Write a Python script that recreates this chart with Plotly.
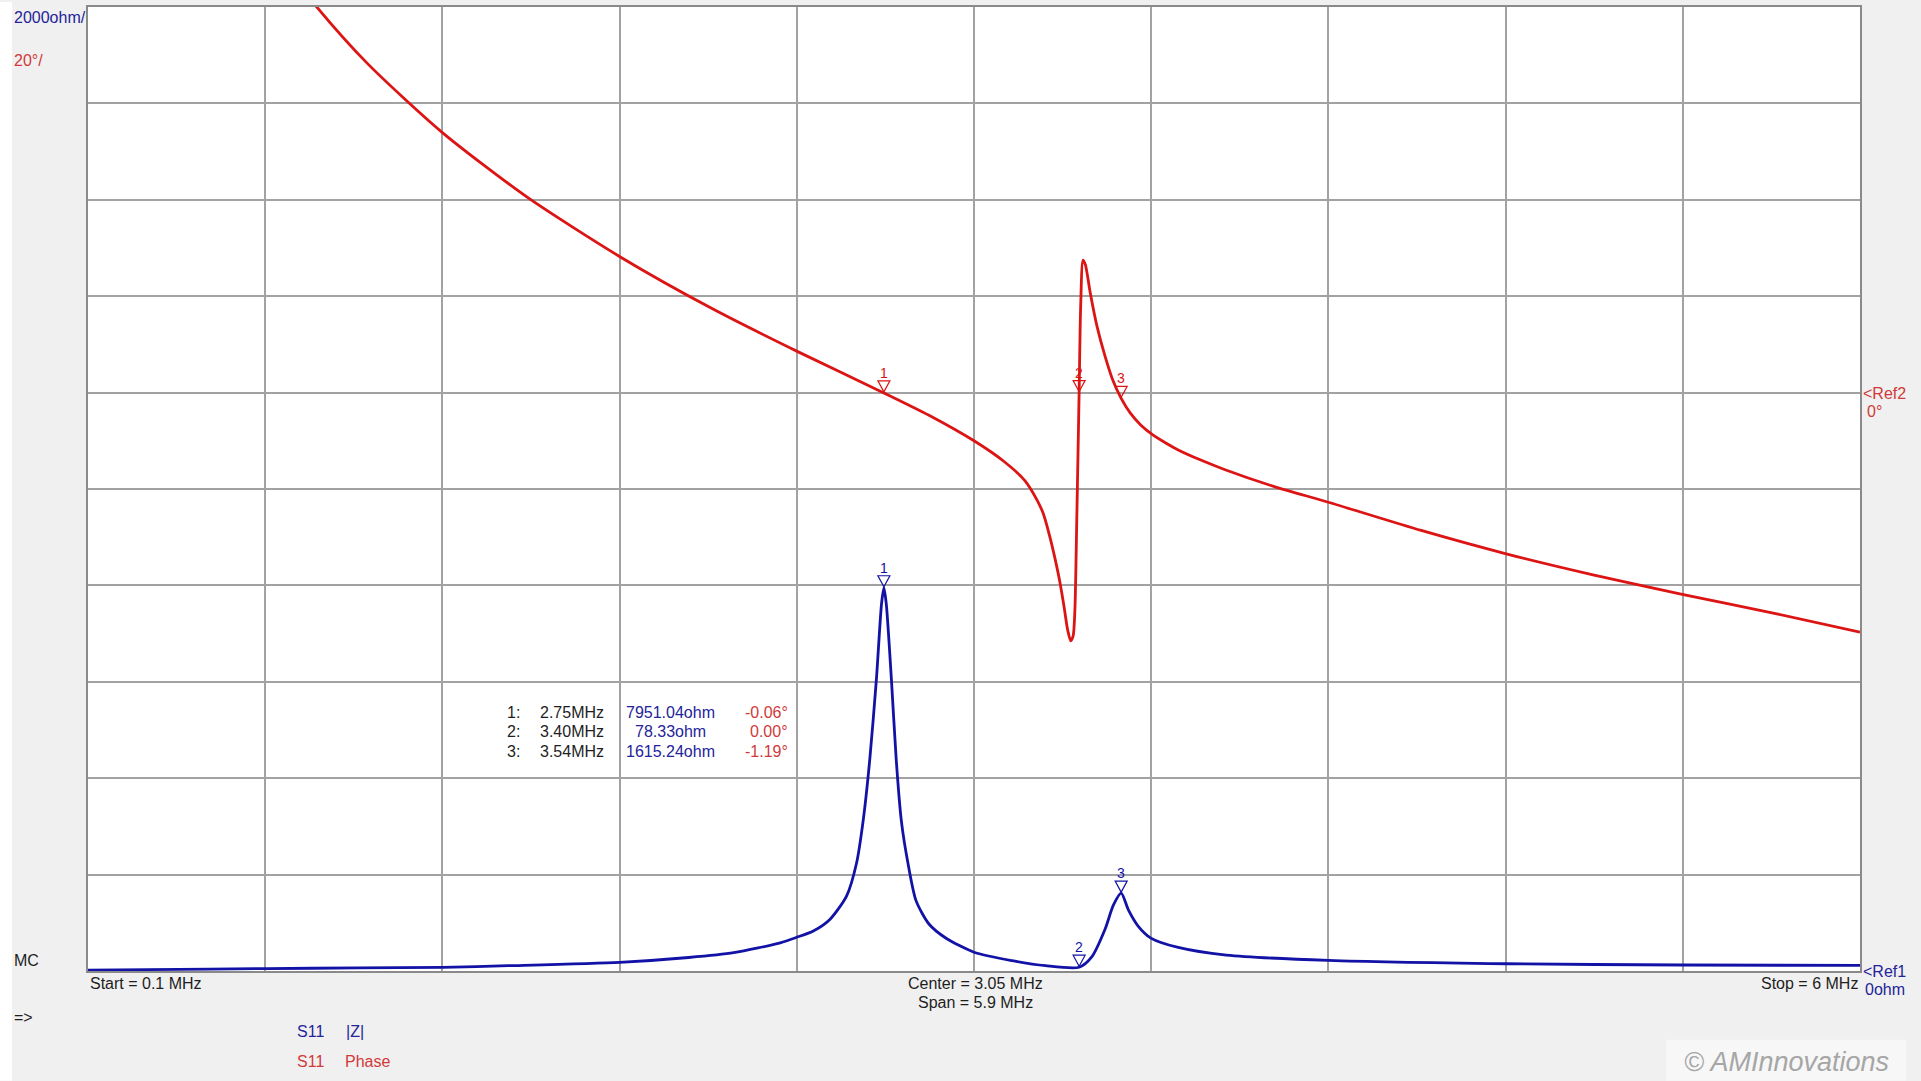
import plotly.graph_objects as go

# sweep settings
start_mhz = 0.1
stop_mhz = 6.0
ohm_per_div = 2000
deg_per_div = 20

# |Z| trace (MHz, ohm)
freq_z = [0.10, 0.30, 0.70, 1.00, 1.28, 1.50, 1.87, 2.10, 2.25, 2.405, 2.46, 2.515,
          2.57, 2.626, 2.659, 2.681, 2.703, 2.725, 2.742, 2.75, 2.758, 2.775, 2.791,
          2.808, 2.83, 2.857, 2.90, 2.957, 3.05, 3.177, 3.288, 3.40, 3.442, 3.487,
          3.514, 3.54, 3.564, 3.597, 3.639, 3.73, 3.89, 4.23, 4.82, 5.41, 6.00]
z_ohm = [20, 30, 50, 65, 76, 110, 180, 280, 380, 585, 700, 830,
         1070, 1560, 2240, 3120, 4390, 6050, 7610, 7951, 7610, 6050, 4390,
         3120, 2240, 1460, 975, 680, 390, 215, 110, 78, 293, 878,
         1366, 1615, 1268, 927, 683, 488, 330, 220, 150, 125, 115]

# phase trace (MHz, degrees)
freq_phase = [0.70, 0.859, 1.03, 1.279, 1.561, 1.871, 2.173, 2.463, 2.75, 2.90, 3.05,
              3.15, 3.22, 3.26, 3.28, 3.30, 3.32, 3.335, 3.35, 3.362, 3.372, 3.38,
              3.386, 3.392, 3.40, 3.405, 3.413, 3.421, 3.437, 3.459, 3.487, 3.512,
              3.54, 3.57, 3.605, 3.642, 3.69, 3.73, 3.805, 3.886, 4.05, 4.233,
              4.539, 4.825, 5.111, 5.412, 5.723, 6.00]
phase_deg = [93, 80.2, 68.3, 54.0, 40.6, 28.2, 17.6, 8.5, -0.06, -4.7, -10.0,
             -14.3, -18.3, -22.3, -25.0, -29.3, -34.5, -39.0, -44.5, -49.3, -51.5, -50.5,
             -45.0, -27.0, 0.0, 17.5, 27.5, 26.5, 20.7, 13.9, 7.4, 2.6,
             -1.19, -4.2, -6.7, -8.6, -10.5, -11.9, -14.0, -16.0, -19.5, -22.8,
             -28.6, -33.5, -37.8, -41.9, -45.9, -49.7]

# markers
marker_freq = [2.75, 3.40, 3.54]
marker_z = [7951.04, 78.33, 1615.24]
marker_phase = [-0.06, 0.00, -1.19]

BLUE = "#1212a6"
RED = "#dc1414"
TXT_BLUE = "#24249a"
TXT_RED = "#d03a3a"
TXT = "#1e1e1e"
FONT = "Liberation Sans"

W, H = 1921, 1081
L, R, T, B = 88, 61, 5, 110
plot_w = W - L - R
plot_h = H - T - B


def px(x):
    return (x - L) / plot_w


def py(y):
    return (H - B - y) / plot_h


fig = go.Figure()

fig.add_trace(go.Scatter(
    x=freq_phase, y=phase_deg, mode="lines", yaxis="y2",
    line=dict(color=RED, width=2.8, shape="spline", smoothing=0.7),
    name="S11 Phase", hoverinfo="skip"
))
fig.add_trace(go.Scatter(
    x=freq_z, y=z_ohm, mode="lines",
    line=dict(color=BLUE, width=2.8, shape="spline", smoothing=0.7),
    name="S11 |Z|", hoverinfo="skip"
))

ann = []
shapes = []


def label(text, x, y, color=TXT, size=16, xanchor="left", **kw):
    ann.append(dict(text=text, x=px(x), y=py(y), xref="paper", yref="paper",
                    xanchor=xanchor, yanchor="middle", showarrow=False,
                    font=dict(family=FONT, size=size, color=color), **kw))


# marker flags on the traces: open triangle (pixel-sized path) + number above
for i, (f, z, p) in enumerate(zip(marker_freq, marker_z, marker_phase), start=1):
    for yref, yv, col in (("y", z, BLUE), ("y2", p, RED)):
        shapes.append(dict(type="path", xref="x", yref=yref, xsizemode="pixel",
                           ysizemode="pixel", xanchor=f, yanchor=yv,
                           path="M-6,12 L6,12 L0,1 Z",
                           line=dict(color=col, width=1.2), fillcolor="rgba(0,0,0,0)"))
        ann.append(dict(text=str(i), x=f, y=yv, xref="x", yref=yref,
                        xanchor="center", yanchor="bottom", showarrow=False, yshift=10,
                        font=dict(family=FONT, size=14, color=col)))

# scale labels
label("2000ohm/", 12, 16, TXT_BLUE)
label("20°/", 12, 59, TXT_RED)
label("MC", 12, 960)
label("=>", 12, 1018)
label("&lt;Ref2", 1861, 392, TXT_RED)
label("0°", 1865, 410, TXT_RED)
label("&lt;Ref1", 1861, 971, TXT_BLUE)
label("0ohm", 1863, 990, TXT_BLUE)

# sweep labels
label(f"Start = {start_mhz:g} MHz", 88, 984)
label(f"Center = {(start_mhz + stop_mhz) / 2:g} MHz", 975, 984, xanchor="center")
label(f"Span = {stop_mhz - start_mhz:g} MHz", 975, 1003, xanchor="center")
label(f"Stop = {stop_mhz:g} MHz", 1860, 984, xanchor="right")

# trace legend
label("S11", 295, 1032, TXT_BLUE)
label("|Z|", 355, 1032, TXT_BLUE, xanchor="center")
label("S11", 295, 1062, TXT_RED)
label("Phase", 343, 1062, TXT_RED)

# marker readout table
for k, (f, z, p) in enumerate(zip(marker_freq, marker_z, marker_phase)):
    y = 712 + k * 19.5
    label(f"{k + 1}:", 522, y, xanchor="right")
    label(f"{f:.2f}MHz", 538, y)
    label(f"{z:.2f}ohm", 670, y, TXT_BLUE, xanchor="center")
    label(f"{p:.2f}°", 790, y, TXT_RED, xanchor="right")

# watermark
label("© AMInnovations", 1786, 1062, "#a6a6a6", size=27, xanchor="center")
ann[-1]["font"]["style"] = "italic"

shapes += [
    dict(type="rect", xref="paper", yref="paper", x0=px(0), x1=px(12), y0=py(H), y1=py(0),
         fillcolor="white", line_width=0, layer="below"),
    dict(type="rect", xref="paper", yref="paper", x0=px(1666), x1=px(1906), y0=py(H), y1=py(1040),
         fillcolor="#f7f7f7", line_width=0, layer="below"),
]

grid = dict(showgrid=True, gridcolor="#a2a2a2", gridwidth=1.5, zeroline=False,
            showticklabels=False, ticks="", showline=True, linecolor="#8a8a8a",
            linewidth=1.5, mirror=True, fixedrange=True)

fig.update_layout(
    width=W, height=H,
    margin=dict(l=L, r=R, t=T, b=B),
    paper_bgcolor="#f0f0f0",
    plot_bgcolor="white",
    showlegend=False,
    xaxis=dict(range=[start_mhz, stop_mhz], tick0=start_mhz,
               dtick=(stop_mhz - start_mhz) / 10, **grid),
    yaxis=dict(range=[0, 10 * ohm_per_div], tick0=0, dtick=ohm_per_div, **grid),
    yaxis2=dict(range=[-6 * deg_per_div, 4 * deg_per_div], overlaying="y", side="right",
                showgrid=False, zeroline=False, showticklabels=False, ticks="",
                fixedrange=True),
    annotations=ann,
    shapes=shapes,
)

fig.write_html("out.html", config={"displayModeBar": False},
               post_script="document.body.style.margin='0';document.body.style.overflow='hidden';")
